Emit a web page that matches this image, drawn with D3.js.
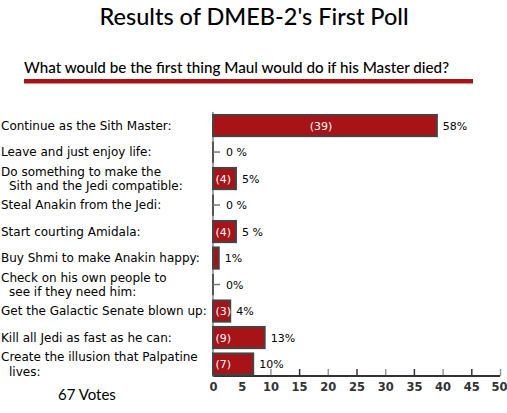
<!DOCTYPE html>
<html><head><meta charset="utf-8">
<script src="https://cdn.jsdelivr.net/npm/d3@7"></script>
<style>html,body{margin:0;padding:0;background:#fff;}svg{display:block;}</style>
</head><body>
<script>
const title = "Results of DMEB-2's First Poll";
const question = "What would be the first thing Maul would do if his Master died?";
const totalLabel = "67 Votes";
const categories = [
  ["Continue as the Sith Master:"],
  ["Leave and just enjoy life:"],
  ["Do something to make the", "Sith and the Jedi compatible:"],
  ["Steal Anakin from the Jedi:"],
  ["Start courting Amidala:"],
  ["Buy Shmi to make Anakin happy:"],
  ["Check on his own people to", "see if they need him:"],
  ["Get the Galactic Senate blown up:"],
  ["Kill all Jedi as fast as he can:"],
  ["Create the illusion that Palpatine", "lives:"]
];
const votes = [39, 0, 4, 0, 4, 1, 0, 3, 9, 7];
const pctLabels = ["58%", "0 %", "5%", "0 %", "5 %", "1%", "0%", "4%", "13%", "10%"];
const tickValues = [0, 5, 10, 15, 20, 25, 30, 35, 40, 45, 50];

const W = 507, H = 413;
const red = "#a81317", stroke = "#444";
const svg = d3.select("body").append("svg").attr("width", W).attr("height", H);

const x = d3.scaleLinear().domain([0, 50]).range([213, 500]);
const y = d3.scaleBand().domain(d3.range(categories.length)).range([112.3, 377.3]).paddingInner(0.2).paddingOuter(0.1);

// Title
svg.append("text").attr("x", 254).attr("y", 25).attr("text-anchor", "middle")
  .style("font-family", "Lato").style("font-size", "23.5px").style("font-weight", "500").attr("fill", "#000").text(title);
svg.append("text").attr("x", 236.5).attr("y", 73).attr("text-anchor", "middle")
  .style("font-family", "Lato").style("font-size", "15.2px").style("font-weight", "500").attr("fill", "#000").text(question);
svg.append("rect").attr("x", 24).attr("y", 79).attr("width", 449).attr("height", 4).attr("fill", red);
svg.append("rect").attr("x", 24).attr("y", 83).attr("width", 449).attr("height", 1).attr("fill", "#d88a8c");

// Category labels
const lab = svg.append("g").style("font-family", "DejaVu Sans").style("font-size", "12px").attr("fill", "#000");
categories.forEach((lines, i) => {
  const cy = y(i) + y.bandwidth() / 2;
  const n = lines.length;
  lines.forEach((t, j) => {
    lab.append("text").attr("x", j === 0 ? 1 : 9)
      .attr("y", cy + (j - (n - 1) / 2) * 14.4 + 4.3).text(t);
  });
});

// Axes
const axisG = svg.append("g").attr("transform", "translate(0,376)");
axisG.call(d3.axisBottom(x).tickValues(tickValues).tickSize(0).tickPadding(0).tickFormat(d3.format("d")));
axisG.select(".domain").remove();
axisG.selectAll(".tick text").attr("y", 15).attr("dy", 0)
  .attr("dx", d => d === 50 ? -1 : 0)
  .style("font-family", "DejaVu Sans").style("font-size", "11.5px").style("font-weight", "bold").attr("fill", "#333");
axisG.selectAll(".tick line").attr("y1", 0).attr("y2", -7)
  .attr("stroke", (d, i) => i % 2 === 1 ? "#333" : "#999").attr("stroke-width", 1.5);
svg.append("line").attr("x1", x(0)).attr("x2", x(50)).attr("y1", 376).attr("y2", 376).attr("stroke", "#333").attr("stroke-width", 2);
svg.append("line").attr("x1", x(0)).attr("x2", x(0)).attr("y1", 112).attr("y2", 377).attr("stroke", "#888").attr("stroke-width", 1.5);

// Bars
const bars = svg.append("g");
votes.forEach((v, i) => {
  const by = y(i), bh = y.bandwidth(), cy = by + bh / 2;
  if (v > 0) {
    bars.append("rect").attr("x", x(0)).attr("y", by).attr("width", x(v) - x(0)).attr("height", bh)
      .attr("fill", red).attr("stroke", stroke).attr("stroke-width", 2);
    const bw = x(v) - x(0);
    if (bw > 15) {
      const wide = bw > 100;
      bars.append("text").attr("x", wide ? (x(0) + x(v)) / 2 - 4 : x(0) + 2.5).attr("y", cy + 4.3)
        .attr("text-anchor", wide ? "middle" : "start")
        .style("font-family", "DejaVu Sans").style("font-size", "11px").attr("fill", "#fff").text("(" + v + ")");
    }
  } else {
    bars.append("line").attr("x1", x(0)).attr("x2", x(0)).attr("y1", by).attr("y2", by + bh)
      .attr("stroke", "#555").attr("stroke-width", 2);
    bars.append("line").attr("x1", x(0)).attr("x2", x(0) + 7).attr("y1", cy).attr("y2", cy)
      .attr("stroke", "#777").attr("stroke-width", 1.5);
  }
  bars.append("text").attr("x", x(v) + (v > 0 ? 6 : 13)).attr("y", cy + 4)
    .style("font-family", "DejaVu Sans").style("font-size", "11px").attr("fill", "#000").text(pctLabels[i]);
});

// Total
svg.append("text").attr("x", 58).attr("y", 399.5).style("font-family", "Lato").style("font-size", "15px")
  .attr("fill", "#000").text(totalLabel);
</script>
</body></html>
